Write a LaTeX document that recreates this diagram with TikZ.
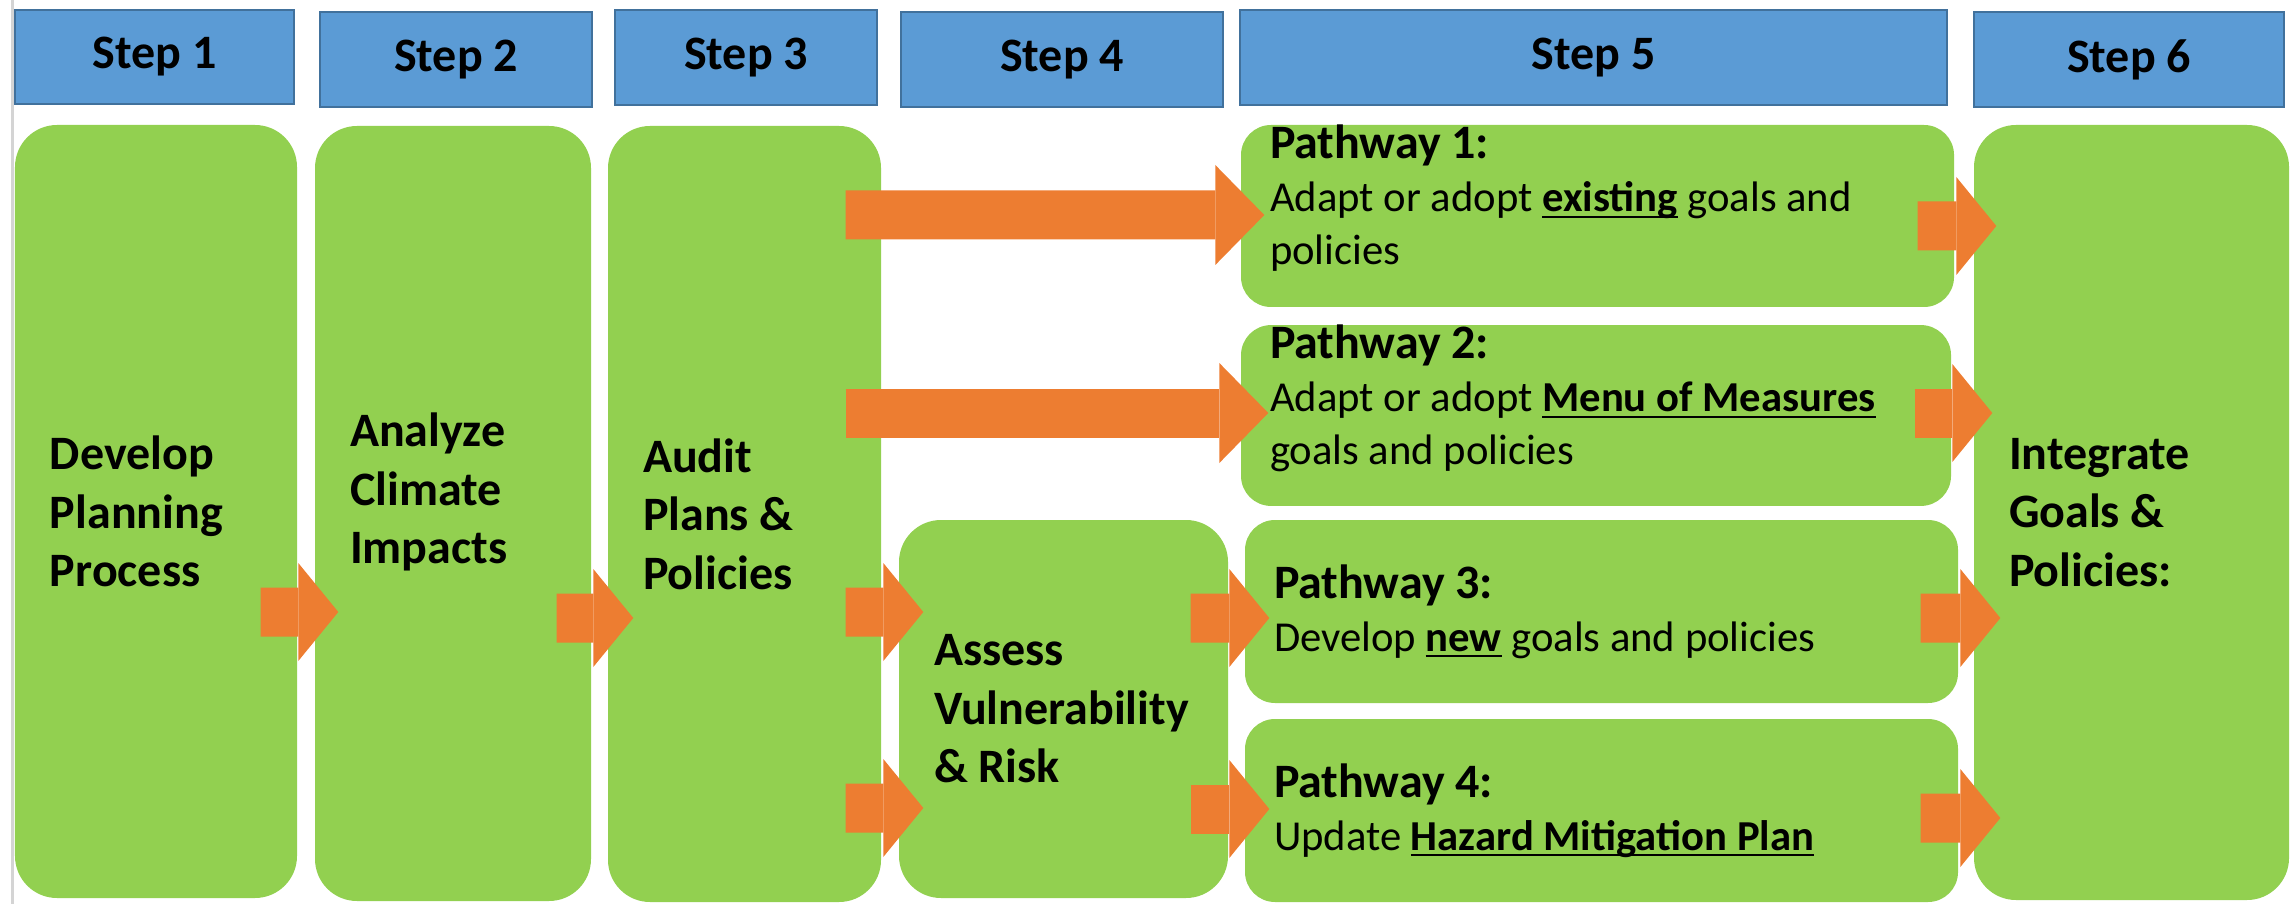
\documentclass[tikz,border=0pt]{standalone}
\usepackage{fontspec}
\setmainfont{Carlito}
\usetikzlibrary{arrows.meta}

\definecolor{stepblue}{HTML}{5B9BD5}
\definecolor{stepedge}{HTML}{41719C}
\definecolor{boxgreen}{HTML}{92D050}
\definecolor{flowred}{HTML}{ED7D31}
\definecolor{edgegray}{HTML}{D4D4D4}

\newcommand{\bigtext}{\fontsize{13.66pt}{16.64pt}\selectfont\bfseries}
\newcommand{\smalltext}{\fontsize{12.14pt}{15.1pt}\selectfont}
\newcommand{\uln}[1]{\setbox0\hbox{#1}\rlap{\rule[-0.14em]{\wd0}{0.05em}}\box0\relax}

\tikzset{
  stepbox/.style={draw=stepedge, line width=0.6pt, fill=stepblue, font=\bigtext, inner sep=0pt},
  bigbox/.style={fill=boxgreen, rounded corners=0.42cm, font=\bigtext, align=flush left,
    inner xsep=0.35cm, inner ysep=0pt},
  pathbox/.style={fill=boxgreen, rounded corners=0.3cm, font=\smalltext, align=flush left,
    inner xsep=0.29cm, inner ysep=0pt},
  flow/.style={draw=flowred, line width=0.49cm,
    -{Triangle[length=0.4cm, width=0.98cm, line width=0pt]}},
  longflow/.style={flow, -{Triangle[length=0.49cm, width=1.0cm, line width=0pt]}}
}

\begin{document}
\begin{tikzpicture}
  \useasboundingbox (0,0) rectangle (22.93,-9.04);
  \draw[edgegray, line width=0.03cm] (0.127,0) -- (0.127,-9.04);

  \node (s1) at (1.545,-0.57)  [stepbox, minimum width=2.79cm, minimum height=0.94cm] {Step 1};
  \node (s2) at (4.56,-0.595)  [stepbox, minimum width=2.72cm, minimum height=0.95cm] {Step 2};
  \node (s3) at (7.46,-0.575)  [stepbox, minimum width=2.62cm, minimum height=0.95cm] {Step 3};
  \node (s4) at (10.62,-0.595) [stepbox, minimum width=3.22cm, minimum height=0.95cm] {Step 4};
  \node (s5) at (15.935,-0.575)[stepbox, minimum width=7.07cm, minimum height=0.95cm] {Step 5};
  \node (s6) at (21.29,-0.595) [stepbox, minimum width=3.10cm, minimum height=0.95cm] {Step 6};

  \node (dev) at (1.56,-5.115)  [bigbox, minimum width=2.82cm, minimum height=7.73cm, text width=2.12cm]
    {Develop\\Planning\\Process};
  \node (ana) at (4.53,-5.135)  [bigbox, minimum width=2.76cm, minimum height=7.75cm, text width=2.06cm]
    {Analyze\\Climate\\Impacts\rule[-0.5cm]{0pt}{0pt}};
  \node (aud) at (7.445,-5.14)  [bigbox, minimum width=2.73cm, minimum height=7.76cm, text width=2.03cm]
    {Audit\\Plans \&\\Policies};
  \node (ass) at (10.635,-7.09) [bigbox, minimum width=3.29cm, minimum height=3.78cm, text width=2.59cm]
    {Assess\\Vulnerability\\\& Risk};
  \node (int) at (21.315,-5.125)[bigbox, minimum width=3.15cm, minimum height=7.75cm, text width=2.45cm]
    {Integrate\\Goals \&\\Policies:};

  \node (p1) at (15.975,-2.16)  [pathbox, minimum width=7.13cm, minimum height=1.82cm, text width=6.55cm]
    {{\bigtext Pathway 1:}\\Adapt or adopt \uln{\textbf{existing}} goals and\\policies\rule[-0.42cm]{0pt}{0pt}};
  \node (p2) at (15.96,-4.155)  [pathbox, minimum width=7.10cm, minimum height=1.77cm, text width=6.52cm]
    {{\bigtext Pathway 2:}\\Adapt or adopt \uln{\textbf{Menu of Measures}}\\goals and policies\rule[-0.41cm]{0pt}{0pt}};
  \node (p3) at (16.015,-6.115) [pathbox, minimum width=7.13cm, minimum height=1.83cm, text width=6.55cm]
    {{\bigtext Pathway 3:}\\Develop \uln{\textbf{new}} goals and policies};
  \node (p4) at (16.015,-8.105) [pathbox, minimum width=7.13cm, minimum height=1.83cm, text width=6.55cm]
    {{\bigtext Pathway 4:}\\Update \uln{\textbf{Hazard Mitigation Plan}}};

  \draw[flow] ([shift={(-0.37,-1.005)}]dev.east) -- ([shift={(0.24,-0.985)}]ana.west);
  \draw[flow] ([shift={(-0.35,-1.045)}]ana.east) -- ([shift={(0.26,-1.04)}]aud.west);
  \draw[flow] ([shift={(-0.36,-0.98)}]aud.east)  -- ([shift={(0.25,0.97)}]ass.west);
  \draw[flow] ([shift={(-0.36,-2.94)}]aud.east)  -- ([shift={(0.25,-0.99)}]ass.west);
  \draw[longflow] ([shift={(-0.36,2.99)}]aud.east) -- ([shift={(0.24,0.01)}]p1.west);
  \draw[longflow] ([shift={(-0.36,1.01)}]aud.east) -- ([shift={(0.28,0.025)}]p2.west);
  \draw[flow] ([shift={(-0.38,0.91)}]ass.east)   -- ([shift={(0.25,-0.065)}]p3.west);
  \draw[flow] ([shift={(-0.38,-1.0)}]ass.east)   -- ([shift={(0.25,0.015)}]p4.west);
  \draw[flow] ([shift={(-0.37,-0.10)}]p1.east)   -- ([shift={(0.23,2.865)}]int.west);
  \draw[flow] ([shift={(-0.37,0.025)}]p2.east)   -- ([shift={(0.19,0.995)}]int.west);
  \draw[flow] ([shift={(-0.38,-0.065)}]p3.east)  -- ([shift={(0.27,-1.055)}]int.west);
  \draw[flow] ([shift={(-0.38,-0.075)}]p4.east)  -- ([shift={(0.27,-3.055)}]int.west);
\end{tikzpicture}
\end{document}
